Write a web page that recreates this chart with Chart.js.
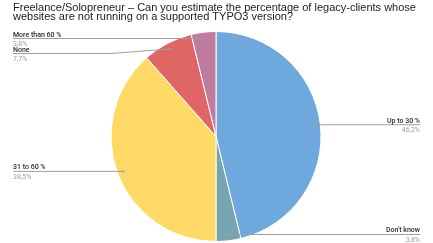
<!DOCTYPE html>
<html>
<head>
<meta charset="utf-8">
<script src="https://cdn.jsdelivr.net/npm/chart.js@4"></script>
<style>
  html, body { margin: 0; padding: 0; background: #fff; }
  canvas { display: block; }
</style>
</head>
<body>
<canvas id="chart" width="433" height="243"></canvas>
<script>
// data
const titleLines = [
  "Freelance/Solopreneur – Can you estimate the percentage of legacy-clients whose",
  "websites are not running on a supported TYPO3 version?"
];
const labels = ["Up to 30 %", "Don't know", "31 to 60 %", "None", "More than 60 %"];
const values = [46.2, 3.8, 38.5, 7.7, 3.8];
const valueLabels = ["46,2%", "3,8%", "38,5%", "7,7%", "3,8%"];
const colors = ["#6fa8dc", "#76a5af", "#ffd966", "#e06666", "#c27ba0"];

// title on top left
const titlePlugin = {
  id: "titleText",
  afterDraw(chart) {
    const ctx = chart.ctx;
    ctx.save();
    ctx.font = "11px 'Liberation Sans', Arial, sans-serif";
    ctx.fillStyle = "#222";
    ctx.textBaseline = "alphabetic";
    ctx.textAlign = "left";
    titleLines.forEach((line, i) => ctx.fillText(line, 13, 10.5 + i * 9.5));
    ctx.restore();
  }
};

// leader lines with name + percentage
const leaderLabels = {
  id: "leaderLabels",
  afterDatasetsDraw(chart) {
    const ctx = chart.ctx;
    const arcs = chart.getDatasetMeta(0).data;
    const items = arcs.map((arc, i) => {
      const mid = (arc.startAngle + arc.endAngle) / 2;
      const r = arc.outerRadius * 0.94;
      const x = arc.x + Math.cos(mid) * r;
      const y = arc.y + Math.sin(mid) * r;
      return { i, x, y, ly: y, right: x >= arc.x };
    });

    // push labels apart on each side
    [true, false].forEach(side => {
      const group = items.filter(it => it.right === side).sort((a, b) => a.y - b.y);
      for (let k = 1; k < group.length; k++) {
        if (group[k].ly - group[k - 1].ly < 15) group[k].ly = group[k - 1].ly + 15;
      }
    });

    ctx.save();
    items.forEach(it => {
      const endX = it.right ? 420 : 13;
      ctx.strokeStyle = "#9e9e9e";
      ctx.lineWidth = 1;
      ctx.beginPath();
      ctx.moveTo(it.x, it.y);
      if (Math.abs(it.ly - it.y) > 0.5) {
        ctx.lineTo(it.x + (it.right ? 60 : -60), it.ly);
      }
      ctx.lineTo(endX, it.ly);
      ctx.stroke();

      ctx.fillStyle = "#9e9e9e";
      ctx.beginPath();
      ctx.arc(it.x, it.y, 1, 0, Math.PI * 2);
      ctx.fill();

      ctx.textAlign = it.right ? "right" : "left";
      ctx.font = "500 7px Roboto, sans-serif";
      ctx.fillStyle = "#2b2b2b";
      ctx.textBaseline = "alphabetic";
      ctx.fillText(labels[it.i], endX, it.ly - 2);
      ctx.font = "7px Roboto, sans-serif";
      ctx.fillStyle = "#a0a0a0";
      ctx.textBaseline = "top";
      ctx.fillText(valueLabels[it.i], endX, it.ly + 2);
    });
    ctx.restore();
  }
};

new Chart(document.getElementById("chart").getContext("2d"), {
  type: "pie",
  data: {
    labels: labels,
    datasets: [{
      data: values,
      backgroundColor: colors,
      borderColor: "#fff",
      borderWidth: 1
    }]
  },
  options: {
    responsive: false,
    animation: false,
    devicePixelRatio: 1,
    layout: { padding: { top: 31, bottom: 1, left: 0, right: 1 } },
    plugins: {
      legend: { display: false },
      tooltip: { enabled: false },
      title: { display: false }
    }
  },
  plugins: [leaderLabels, titlePlugin]
});
</script>
</body>
</html>
